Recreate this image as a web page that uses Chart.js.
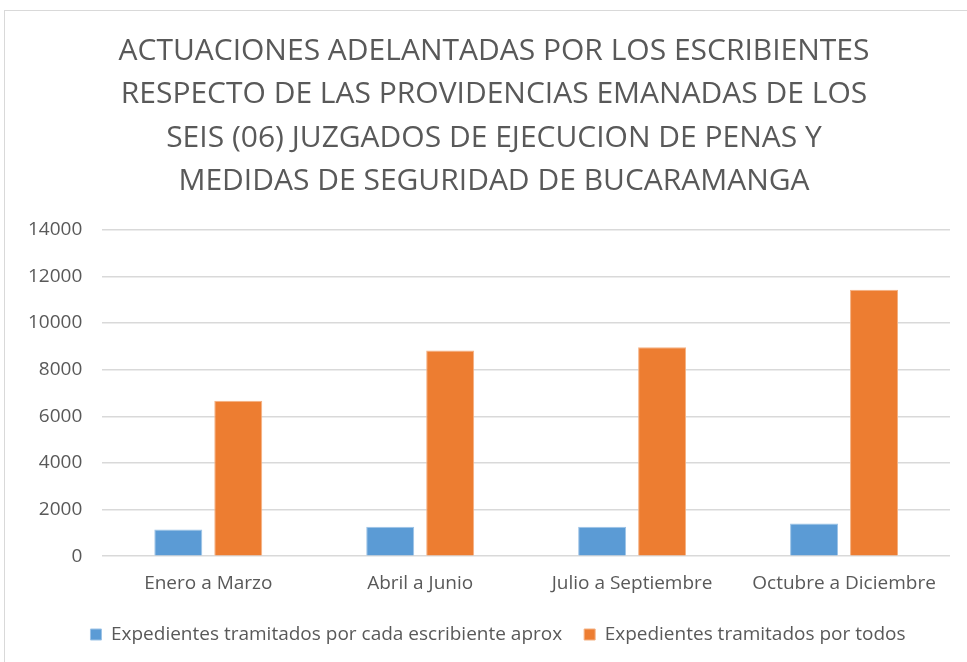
<!DOCTYPE html>
<html>
<head>
<meta charset="utf-8">
<script src="https://cdn.jsdelivr.net/npm/chart.js@4.4.0/dist/chart.umd.min.js"></script>
<style>
  body { margin: 0; background: #fff; overflow: hidden; }
  #wrap { position: absolute; left: 0; top: 0; width: 967px; height: 662px; }
  #frame { position: absolute; left: 4px; top: 10px; width: 980px; height: 680px; border: 1px solid #d9d9d9; pointer-events: none; }
</style>
</head>
<body>
<div id="wrap"><canvas id="chart" width="967" height="662"></canvas></div>
<div id="frame"></div>
<script>
const categories = ['Enero a Marzo', 'Abril a Junio', 'Julio a Septiembre', 'Octubre a Diciembre'];
const porEscribiente = [1150, 1260, 1260, 1400];
const porTodos = [6670, 8820, 8960, 11430];
const titleLines = [
    'ACTUACIONES ADELANTADAS POR LOS ESCRIBIENTES',
    'RESPECTO DE LAS PROVIDENCIAS EMANADAS DE LOS',
    'SEIS (06) JUZGADOS DE EJECUCION DE PENAS Y',
    'MEDIDAS DE SEGURIDAD DE BUCARAMANGA'
];

const fontName = "'Open Sans', Lato, sans-serif";
const grey = '#595959';

// nudge title and legend right so they sit centred like the original
const boxShift = {
    id: 'boxShift',
    afterLayout(chart) {
        chart.legend.left += 19;
        chart.legend.right += 19;
        chart.titleBlock.left += 15;
        chart.titleBlock.right += 15;
    }
};

const ctx = document.getElementById('chart').getContext('2d');
new Chart(ctx, {
    type: 'bar',
    data: {
        labels: categories,
        datasets: [{
            label: 'Expedientes tramitados por cada escribiente aprox',
            data: porEscribiente,
            backgroundColor: '#5b9bd5',
            borderColor: '#9dc3e6',
            borderWidth: 1,
            barPercentage: 0.8,
            categoryPercentage: 0.566
        }, {
            label: 'Expedientes tramitados por todos',
            data: porTodos,
            backgroundColor: '#ed7d31',
            borderColor: '#f4b183',
            borderWidth: 1,
            barPercentage: 0.8,
            categoryPercentage: 0.566
        }]
    },
    options: {
        responsive: false,
        animation: false,
        layout: { padding: { left: 8, right: 17, top: 19, bottom: 8 } },
        plugins: {
            title: {
                display: true,
                text: titleLines,
                color: grey,
                font: { family: fontName, size: 30, weight: 'normal', lineHeight: 1.44 },
                padding: { top: 11, bottom: 27 }
            },
            legend: {
                position: 'bottom',
                labels: {
                    color: grey,
                    font: { family: fontName, size: 19 },
                    boxWidth: 11,
                    boxHeight: 11,
                    padding: 22
                }
            },
            tooltip: { enabled: false }
        },
        scales: {
            x: {
                grid: { display: false },
                border: { display: false },
                ticks: { color: grey, font: { family: fontName, size: 19 }, padding: 8 }
            },
            y: {
                min: 0,
                max: 14000,
                ticks: {
                    stepSize: 2000,
                    color: grey,
                    font: { family: fontName, size: 19 },
                    padding: 20,
                    callback: (v) => String(v)
                },
                grid: { color: '#d9d9d9', lineWidth: 1.5, drawTicks: false },
                border: { display: false }
            }
        }
    },
    plugins: [boxShift]
});
</script>
</body>
</html>
